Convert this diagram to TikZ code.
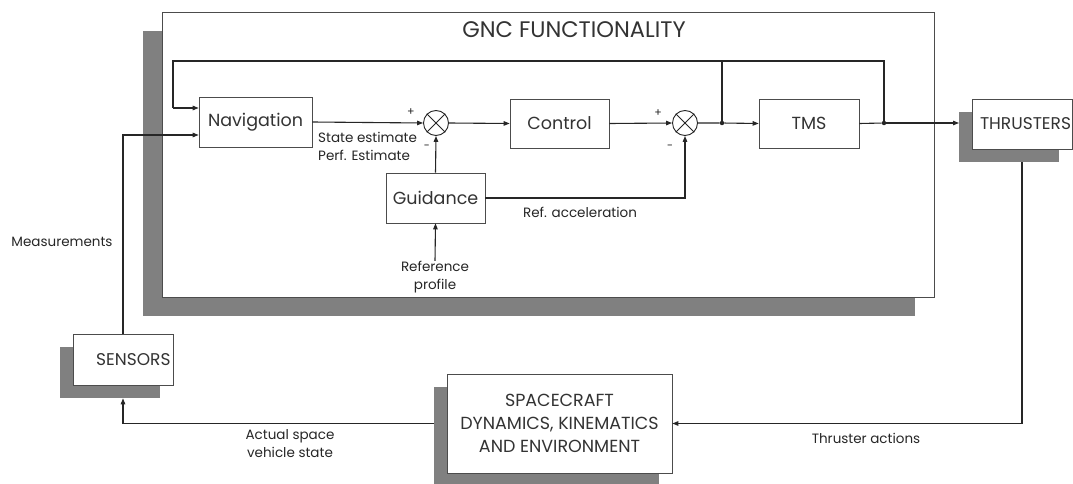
\documentclass[tikz,border=0pt]{standalone}
\usepackage{fontspec}
\setmainfont{Poppins}
\usetikzlibrary{arrows.meta,shadows,calc}
\begin{document}
\begin{tikzpicture}[x=1pt,y=-1pt,
  line col/.style={draw=black!85},
  arr/.style={line col,line width=1.1pt,-{Triangle[length=6pt,width=4.5pt]}},
  ln/.style={line col,line width=1.1pt},
  fb/.style={line col,line width=1.6pt},
  blk/.style={draw=black!70,line width=0.7pt,fill=white,inner sep=0pt,font=\fontsize{17.5}{20}\selectfont,text=black!80},
  shad13/.style={drop shadow={shadow xshift=-13pt,shadow yshift=-13pt,fill=black!50,opacity=1}},
  sumj/.style={circle,draw=black!85,line width=0.9pt,minimum size=25pt,inner sep=0pt,fill=white},
  dotj/.style={circle,fill=black!85,minimum size=4.5pt,inner sep=0pt},
  lbl/.style={font=\fontsize{13.5}{18}\selectfont,text=black!85,inner sep=0pt},
  sgn/.style={font=\fontsize{11}{12}\selectfont,text=black!85,inner sep=0pt}
]
\useasboundingbox (0,0) rectangle (1073,484);
% GNC frame
\node[blk,minimum width=772pt,minimum height=285pt,
  drop shadow={shadow xshift=-19pt,shadow yshift=-19pt,fill=black!50,opacity=1}]
  (gnc) at (548,154.5) {};
\node[font=\fontsize{22.5}{26}\selectfont,text=black!80] (gnctitle) at (574,30) {GNC FUNCTIONALITY};
% blocks
\node[blk,minimum width=113pt,minimum height=50pt] (nav) at (255.5,122) {Navigation};
\node[blk,minimum width=99pt,minimum height=49pt] (ctrl) at (559.5,123.5) {Control};
\node[blk,minimum width=100pt,minimum height=49pt] (tms) at (809,123.5) {TMS};
\node[blk,minimum width=99pt,minimum height=50pt] (guid) at (435.5,198) {Guidance};
\node[sumj] (s1) at (436,123) {};
\draw[line col,line width=0.9pt] (s1.north west) -- (s1.south east) (s1.north east) -- (s1.south west);
\node[sumj] (s2) at (685,123) {};
\draw[line col,line width=0.9pt] (s2.north west) -- (s2.south east) (s2.north east) -- (s2.south west);
\node[dotj] (d1) at (722,123) {};
\node[dotj] (d2) at (884,123) {};
% outer blocks
\node[blk,shad13,minimum width=100pt,minimum height=50pt,text width=98pt,align=right,font=\fontsize{17}{20}\selectfont] (thr) at (1022,124) {THRUSTERS};
\node[blk,shad13,minimum width=100pt,minimum height=51pt,text width=95pt,align=right,font=\fontsize{17}{20}\selectfont] (sens) at (123,359.5) {SENSORS};
\node[blk,shad13,minimum width=225pt,minimum height=99pt,align=center,font=\fontsize{17.5}{23}\selectfont] (sc) at (559.5,423.5) {SPACECRAFT\\DYNAMICS, KINEMATICS\\AND ENVIRONMENT};
\coordinate (fbL) at (173,61);
\coordinate (thrin) at (959,123);
% connectors
\draw[arr] (nav.east) -- (s1.west);
\draw[arr] (s1.east) -- (ctrl.west);
\draw[arr] (ctrl.east) -- (s2.west);
\draw[arr] (s2.east) -- (d1) -- (tms.west);
\draw[ln] (tms.east) -- (d2);
\draw[arr] (d2) -- (thrin);
\draw[fb] (d1) -- (d1 |- fbL);
\draw[fb] (d2) |- (fbL) -- ($(fbL)+(0,47)$);
\draw[arr] ($(fbL)+(0,47)$) -- ($(nav.west)+(0,-14)$);
\draw[arr] (guid.north) -- (s1.south);
\draw[arr] (guid.east) -| (s2.south);
\node[lbl,align=center] (refp) at (435,277) {Reference\\profile};
\draw[arr] (refp.north) -- (guid.south);
\draw[arr] (sens.north) |- ($(nav.west)+(0,13)$);
\draw[arr] ($(thr.south)+(0,13)$) |- (sc.east);
\draw[arr] ($(sc.west)+(-13,0)$) -| ($(sens.south)+(0,13)$);
% labels
\node[sgn] (p1) at (411,112) {+};
\node[sgn] (m1) at (427,147) {-};
\node[sgn] (p2) at (658,113) {+};
\node[sgn] (m2) at (670,147) {−};
\node[lbl,align=left,anchor=west] (se) at (318,146) {State estimate\\Perf. Estimate};
\node[lbl] (refacc) at (580,212) {Ref. acceleration};
\node[lbl] (meas) at (62,242) {Measurements};
\node[lbl,align=center] (avs) at (290,444) {Actual space\\vehicle state};
\node[lbl] (thra) at (866,438) {Thruster actions};
\end{tikzpicture}
\end{document}
